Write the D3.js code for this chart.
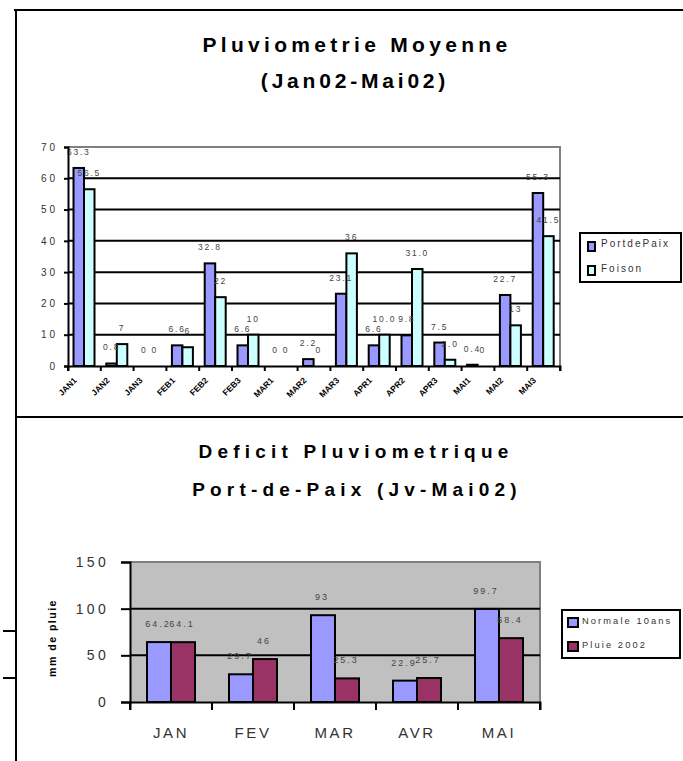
<!DOCTYPE html>
<html lang="fr">
<head>
  <meta charset="UTF-8" />
  <title>Pluviometrie</title>
  <script src="https://d3js.org/d3.v7.min.js"></script>
  <style>
    body { margin: 0; background: #fff; }
    svg { display: block; font-family: "Liberation Sans", Arial, sans-serif; }
  </style>
</head>
<body>
  <svg width="683" height="761"></svg>
  <script>
    // données : décades jan-mai 2002
    const decades = ["JAN1","JAN2","JAN3","FEB1","FEB2","FEB3","MAR1","MAR2","MAR3","APR1","APR2","APR3","MAI1","MAI2","MAI3"];
    const portDePaix = [63.3, 0.8, 0, 6.6, 32.8, 6.6, 0, 2.2, 23.1, 6.6, 9.8, 7.5, 0.4, 22.7, 55.3];
    const portDePaixLbl = ["63.3","0.8","0","6.6","32.8","6.6","0","2.2","23.1","6.6","9.8","7.5","0.4","22.7","55.3"];
    const foison = [56.5, 7, 0, 6, 22, 10, 0, 0, 36, 10, 31, 2, 0, 13, 41.5];
    const foisonLbl = ["56.5","7","0","6","22","10","0","0","36","10.0","31.0","2.0","0","13","41.5"];
    const topTicks = [0, 10, 20, 30, 40, 50, 60, 70];

    // deficit mensuel
    const mois = ["JAN","FEV","MAR","AVR","MAI"];
    const normale = [64.2, 29.7, 93, 22.9, 99.7];
    const pluie2002 = [64.1, 46, 25.3, 25.7, 68.4];
    const botTicks = [0, 50, 100, 150];

    const svg = d3.select("svg");

    // cadre
    svg.append("path").attr("d", "M14,10H683M16,10V761M16,417H683M3,631H16M3,678H16")
      .attr("fill", "none").attr("stroke", "#000").attr("stroke-width", 2);

    // ---------- graphique 1 ----------
    const title1 = svg.append("g").attr("font-weight", "bold").attr("font-size", 21)
      .attr("text-anchor", "middle");
    title1.append("text").attr("x", 357).attr("y", 52).attr("letter-spacing", 4.3).text("Pluviometrie Moyenne");
    title1.append("text").attr("x", 355).attr("y", 88).attr("letter-spacing", 3.8).text("(Jan02-Mai02)");

    const x1 = d3.scaleBand().domain(decades).range([68, 560]);
    const y1 = d3.scaleLinear().domain([0, 70]).range([366, 147]);
    const bw1 = 10.5;

    const g1 = svg.append("g");
    g1.append("path").attr("d", `M68,147H560V366`).attr("fill", "none").attr("stroke", "#808080").attr("stroke-width", 2);
    g1.selectAll("line.grid").data(topTicks.slice(1, -1)).join("line")
      .attr("x1", 68).attr("x2", 560).attr("y1", d => y1(d)).attr("y2", d => y1(d))
      .attr("stroke", "#000").attr("stroke-width", 2);

    const series1 = [
      { vals: portDePaix, lbl: portDePaixLbl, color: "#9999FF", off: 0 },
      { vals: foison, lbl: foisonLbl, color: "#CCFFFF", off: 1 }
    ];
    series1.forEach(s => {
      const pts = s.vals.map((v, i) => ({ v, cat: decades[i] })).filter(p => p.v > 0);
      g1.append("g").selectAll("rect").data(pts).join("rect")
        .attr("x", p => x1(p.cat) + 5.5 + s.off * bw1)
        .attr("y", p => y1(p.v))
        .attr("width", bw1).attr("height", p => y1(0) - y1(p.v))
        .attr("fill", s.color).attr("stroke", "#000").attr("stroke-width", 2);
    });
    series1.forEach(s => {
      g1.append("g").selectAll("text").data(s.vals).join("text")
        .attr("x", (d, i) => x1(decades[i]) + 5.5 + s.off * bw1 + bw1 / 2)
        .attr("y", d => y1(d) - 13)
        .attr("text-anchor", "middle").attr("font-size", 8.5).attr("letter-spacing", 1.8)
        .attr("fill", "#444")
        .text((d, i) => s.lbl[i]);
    });

    const ax1 = g1.append("g").attr("transform", "translate(0,366)")
      .call(d3.axisBottom(x1).tickSize(5).tickFormat(""));
    ax1.select(".domain").attr("stroke-width", 2);
    ax1.selectAll(".tick").attr("transform", d => `translate(${x1(d)},0)`);
    ax1.selectAll(".tick line").attr("stroke-width", 2);
    ax1.append("line").attr("x1", 560).attr("x2", 560).attr("y1", 0).attr("y2", 5).attr("stroke", "#000").attr("stroke-width", 2);
    g1.append("g").selectAll("text").data(decades).join("text")
      .attr("transform", d => `translate(${x1(d) + x1.bandwidth() / 2 - 7},381) rotate(-45)`)
      .attr("text-anchor", "end").attr("font-size", 8.5).attr("font-weight", "bold")
      .attr("fill", "#000").text(d => d);

    const ay1 = g1.append("g").attr("transform", "translate(68,0)")
      .call(d3.axisLeft(y1).tickValues(topTicks).tickSize(4).tickPadding(6));
    ay1.select(".domain").attr("stroke-width", 2);
    ay1.selectAll(".tick line").attr("stroke-width", 2);
    ay1.selectAll(".tick text").attr("font-size", 10).attr("letter-spacing", 3)
      .attr("fill", "#333").attr("font-family", "inherit");

    const leg1 = svg.append("g");
    leg1.append("rect").attr("x", 580).attr("y", 233).attr("width", 101).attr("height", 49)
      .attr("fill", "#fff").attr("stroke", "#000").attr("stroke-width", 2);
    series1.forEach((s, i) => {
      leg1.append("rect").attr("x", 588).attr("y", 242 + i * 24).attr("width", 7).attr("height", 9)
        .attr("fill", s.color).attr("stroke", "#000").attr("stroke-width", 2);
      leg1.append("text").attr("x", 601).attr("y", 247 + i * 25).attr("font-size", 10)
        .attr("letter-spacing", 2).attr("fill", "#333").text(["PortdePaix", "Foison"][i]);
    });

    // ---------- graphique 2 ----------
    const title2 = svg.append("g").attr("font-weight", "bold").attr("font-size", 19)
      .attr("text-anchor", "middle");
    title2.append("text").attr("x", 356).attr("y", 458).attr("letter-spacing", 5.2).text("Deficit Pluviometrique");
    title2.append("text").attr("x", 357).attr("y", 496).attr("letter-spacing", 5.2).text("Port-de-Paix (Jv-Mai02)");

    const x2 = d3.scaleBand().domain(mois).range([130, 540]);
    const y2 = d3.scaleLinear().domain([0, 150]).range([702, 562]);
    const bw2 = 24;

    const g2 = svg.append("g");
    g2.append("rect").attr("x", 130).attr("y", 562).attr("width", 410).attr("height", 140).attr("fill", "#C0C0C0");
    g2.append("path").attr("d", "M130,562H540V702").attr("fill", "none").attr("stroke", "#808080").attr("stroke-width", 2);
    g2.selectAll("line.grid").data(botTicks.slice(1, -1)).join("line")
      .attr("x1", 130).attr("x2", 540).attr("y1", d => y2(d)).attr("y2", d => y2(d))
      .attr("stroke", "#000").attr("stroke-width", 2);

    const series2 = [
      { vals: normale, name: "Normale 10ans", color: "#9999FF", off: 0 },
      { vals: pluie2002, name: "Pluie 2002", color: "#993366", off: 1 }
    ];
    series2.forEach(s => {
      g2.append("g").selectAll("rect").data(s.vals).join("rect")
        .attr("x", (d, i) => x2(mois[i]) + 17 + s.off * bw2)
        .attr("y", d => y2(d))
        .attr("width", bw2).attr("height", d => y2(0) - y2(d))
        .attr("fill", s.color).attr("stroke", "#000").attr("stroke-width", 2);
    });
    series2.forEach(s => {
      g2.append("g").selectAll("text").data(s.vals).join("text")
        .attr("x", (d, i) => x2(mois[i]) + 17 + s.off * bw2 + bw2 / 2 - 1)
        .attr("y", d => y2(d) - 15)
        .attr("text-anchor", "middle").attr("font-size", 9).attr("letter-spacing", 2)
        .attr("fill", "#444").text(d => d);
    });

    const ax2 = g2.append("g").attr("transform", "translate(0,702)")
      .call(d3.axisBottom(x2).tickSize(8).tickPadding(17));
    ax2.select(".domain").attr("stroke-width", 2);
    ax2.selectAll(".tick line").attr("transform", d => `translate(${-x2.bandwidth() / 2},0)`).attr("stroke-width", 2);
    ax2.append("line").attr("x1", 540).attr("x2", 540).attr("y1", 0).attr("y2", 8).attr("stroke", "#000").attr("stroke-width", 2);
    ax2.selectAll(".tick text").attr("font-size", 15).attr("letter-spacing", 2.6)
      .attr("fill", "#333").attr("font-family", "inherit");

    const ay2 = g2.append("g").attr("transform", "translate(130,0)")
      .call(d3.axisLeft(y2).tickValues(botTicks).tickSize(9).tickPadding(12));
    ay2.select(".domain").attr("stroke-width", 2);
    ay2.selectAll(".tick line").attr("stroke-width", 2);
    ay2.selectAll(".tick text").attr("font-size", 14).attr("letter-spacing", 3.3)
      .attr("fill", "#333").attr("font-family", "inherit");

    svg.append("text").attr("transform", "translate(56,638) rotate(-90)")
      .attr("text-anchor", "middle").attr("font-size", 10.5).attr("font-weight", "bold")
      .attr("letter-spacing", 1.5).text("mm de pluie");

    const leg2 = svg.append("g");
    leg2.append("rect").attr("x", 562).attr("y", 610).attr("width", 118).attr("height", 48)
      .attr("fill", "#fff").attr("stroke", "#000").attr("stroke-width", 2);
    series2.forEach((s, i) => {
      leg2.append("rect").attr("x", 568).attr("y", 618 + i * 24).attr("width", 10).attr("height", 9)
        .attr("fill", s.color).attr("stroke", "#000").attr("stroke-width", 2);
      leg2.append("text").attr("x", 582).attr("y", 624 + i * 24).attr("font-size", 9.3)
        .attr("letter-spacing", 2.1).attr("fill", "#333").text(s.name);
    });
  </script>
</body>
</html>
